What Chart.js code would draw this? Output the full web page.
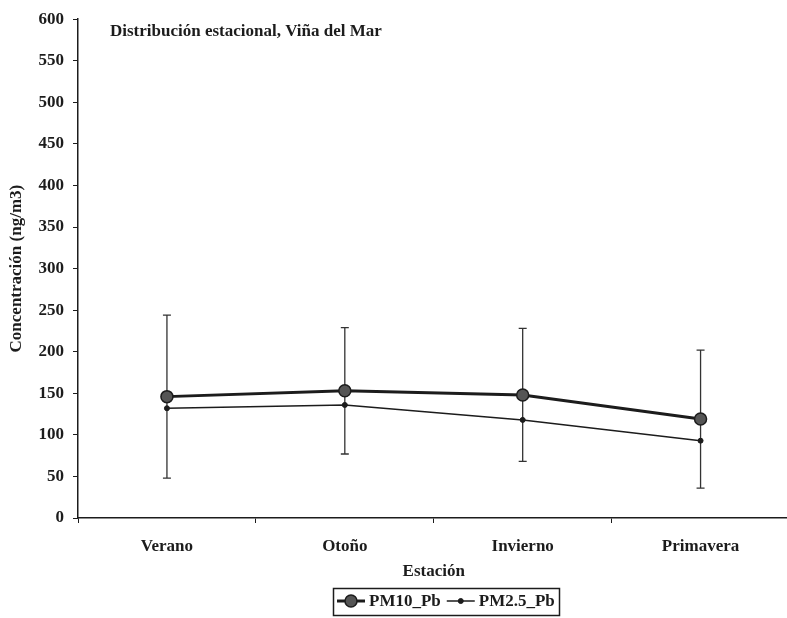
<!DOCTYPE html>
<html>
<head>
<meta charset="utf-8">
<script src="https://cdn.jsdelivr.net/npm/chart.js@4.4.1/dist/chart.umd.min.js"></script>
<style>
html, body { margin: 0; padding: 0; background: #fff; overflow: hidden; }
canvas { display: block; }
</style>
</head>
<body>
<!-- a touch wider than the window so the x axis runs off the right edge like the scan -->
<canvas id="chart" width="797" height="618"></canvas>
<script>
'use strict';

const SEASONS = ['Verano', 'Otoño', 'Invierno', 'Primavera'];
const PM10_PB = [146, 153, 148, 119];
const PM10_PB_SD = [98, 76, 80, 83];
const PM25_PB = [132, 136, 118, 93];

const SERIF = '"Liberation Serif", "Times New Roman", serif';
const INK = '#1c1c1c';
const TITLE = 'Distribución estacional, Viña del Mar';

// vertical whiskers (mean ± sd) for PM10, drawn under the markers
const errorBars = {
  id: 'errorBars',
  beforeDatasetsDraw(chart) {
    const { ctx, scales: { x, y } } = chart;
    ctx.save();
    ctx.strokeStyle = '#333';
    ctx.lineWidth = 1.3;
    PM10_PB.forEach((v, i) => {
      const px = x.getPixelForValue(i);
      const top = y.getPixelForValue(v + PM10_PB_SD[i]);
      const bot = y.getPixelForValue(v - PM10_PB_SD[i]);
      ctx.beginPath();
      ctx.moveTo(px, top);
      ctx.lineTo(px, bot);
      ctx.moveTo(px - 4, top);
      ctx.lineTo(px + 4, top);
      ctx.moveTo(px - 4, bot);
      ctx.lineTo(px + 4, bot);
      ctx.stroke();
    });
    ctx.restore();
  },
};

const innerTitle = {
  id: 'innerTitle',
  afterDraw(chart) {
    const { ctx, chartArea } = chart;
    ctx.save();
    ctx.font = `bold 17px ${SERIF}`;
    ctx.fillStyle = INK;
    ctx.textAlign = 'left';
    ctx.textBaseline = 'middle';
    ctx.fillText(TITLE, chartArea.left + 32, chartArea.top + 12);
    ctx.restore();
  },
};

// boxed legend with line + marker samples, as in the spreadsheet original
const boxLegend = {
  id: 'boxLegend',
  afterDraw(chart) {
    const { ctx } = chart;
    const sets = chart.data.datasets;
    const sample = 28;
    ctx.save();
    ctx.font = `bold 17px ${SERIF}`;
    const widths = sets.map((d) => ctx.measureText(d.label).width);
    let total = 8;
    widths.forEach((w, i) => { total += sample + 4 + w + (i < sets.length - 1 ? 6 : 0); });
    const cx = 446;
    const cy = 601;
    const h = 27;
    const left = Math.round(cx - total / 2);
    ctx.strokeStyle = INK;
    ctx.lineWidth = 1.5;
    ctx.strokeRect(left + 0.5, Math.round(cy - h / 2) + 0.5, Math.round(total), h);

    let x = left + 4;
    sets.forEach((d, i) => {
      ctx.strokeStyle = d.borderColor;
      ctx.lineWidth = d.borderWidth;
      ctx.beginPath();
      ctx.moveTo(x, cy);
      ctx.lineTo(x + sample, cy);
      ctx.stroke();
      ctx.beginPath();
      ctx.arc(x + sample / 2, cy, d.pointRadius, 0, Math.PI * 2);
      ctx.fillStyle = d.pointBackgroundColor;
      ctx.fill();
      ctx.lineWidth = d.pointBorderWidth;
      ctx.strokeStyle = d.pointBorderColor;
      ctx.stroke();
      x += sample + 4;
      ctx.fillStyle = INK;
      ctx.textAlign = 'left';
      ctx.textBaseline = 'middle';
      ctx.fillText(d.label, x, cy + 1);
      x += widths[i] + 6;
    });
    ctx.restore();
  },
};

new Chart(document.getElementById('chart'), {
  type: 'line',
  data: {
    labels: SEASONS,
    datasets: [
      {
        label: 'PM10_Pb',
        data: PM10_PB,
        borderColor: INK,
        borderWidth: 3,
        pointRadius: 6,
        pointBackgroundColor: '#555',
        pointBorderColor: INK,
        pointBorderWidth: 1.5,
        tension: 0,
      },
      {
        label: 'PM2.5_Pb',
        data: PM25_PB,
        borderColor: INK,
        borderWidth: 1.5,
        pointRadius: 2.5,
        pointBackgroundColor: INK,
        pointBorderColor: INK,
        pointBorderWidth: 1,
        tension: 0,
      },
    ],
  },
  options: {
    responsive: false,
    animation: false,
    devicePixelRatio: 1,
    layout: { padding: { top: 13, right: 0, left: 4, bottom: 36 } },
    plugins: {
      legend: { display: false },
      tooltip: { enabled: false },
    },
    scales: {
      x: {
        offset: true,
        afterFit(scale) { scale.height = 64; },
        grid: {
          offset: true,
          drawOnChartArea: false,
          drawTicks: true,
          tickLength: 5,
          color: INK,
        },
        border: { color: INK, width: 1.5 },
        ticks: {
          color: INK,
          padding: 13,
          font: { family: SERIF, size: 17, weight: 'bold' },
        },
        title: {
          display: true,
          text: 'Estación',
          color: INK,
          padding: { top: 0, bottom: 0 },
          font: { family: SERIF, size: 17, weight: 'bold' },
        },
      },
      y: {
        min: 0,
        max: 600,
        afterFit(scale) { scale.width = 74; },
        grid: {
          drawOnChartArea: false,
          drawTicks: true,
          tickLength: 5,
          color: INK,
        },
        border: { color: INK, width: 1.5 },
        ticks: {
          stepSize: 50,
          color: INK,
          padding: 9,
          font: { family: SERIF, size: 17, weight: 'bold' },
        },
        title: {
          display: true,
          text: 'Concentración (ng/m3)',
          color: INK,
          padding: { top: 2, bottom: 4 },
          font: { family: SERIF, size: 17, weight: 'bold' },
        },
      },
    },
  },
  plugins: [errorBars, innerTitle, boxLegend],
});
</script>
</body>
</html>
